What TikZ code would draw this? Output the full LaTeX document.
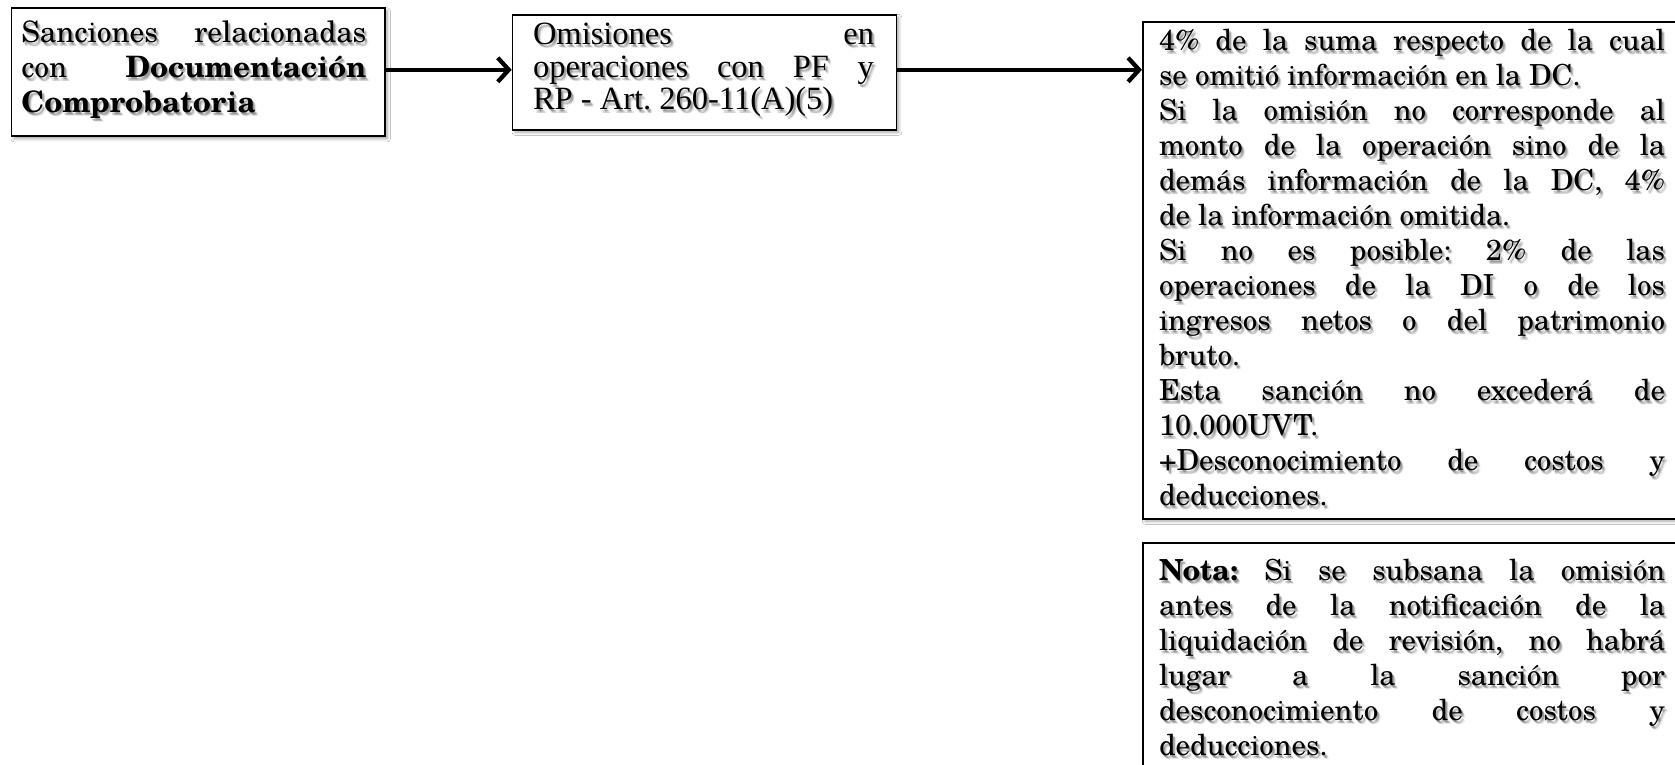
\documentclass[tikz,border=0pt]{standalone}
\usepackage{fontspec}
\setmainfont{texgyreschola}[
  Extension=.otf,
  UprightFont=*-regular,
  BoldFont=*-bold,
  ItalicFont=*-italic,
  BoldItalicFont=*-bolditalic]
\newfontfamily\timesfont{Liberation Serif}
\usetikzlibrary{arrows.meta,shadows.blur}

\tikzset{
  box/.style={draw=black, line width=1.6pt, fill=white, inner sep=0pt,
    anchor=north west,
    blur shadow={shadow xshift=2.5pt, shadow yshift=-2.5pt,
      shadow blur radius=3pt, shadow opacity=35}},
  para/.style={inner sep=0pt, outer sep=0pt, anchor=north west, align=justify,
    execute at begin node={\frenchspacing\parindent=0pt\hyphenpenalty=10000%
      \exhyphenpenalty=10000\tolerance=10000\emergencystretch=0pt}},
  headtext/.style={para, text width=345pt, font=\fontsize{29.5}{34.7}\selectfont},
  midtext/.style={para, text width=341pt, font=\timesfont\fontsize{32.5}{32.6}\selectfont},
  sidetext/.style={para, text width=506pt, font=\fontsize{29}{35}\selectfont},
  arr/.style={line width=4.3pt, -{Straight Barb[length=11pt, width=24pt]}},
}

% text with a soft drop shadow: #1 name, #2 style, #3 position, #4 text
\newcommand\shadowtext[4]{%
  \foreach \sx/\sy/\so in {1.5/2/0.16, 2.5/3/0.14, 3.5/4/0.08, 2/3.5/0.1}{%
    \node[#2, text=black, text opacity=\so, xshift=\sx pt, yshift=-\sy pt] at (#3) {#4};
  }%
  \node[#2] (#1) at (#3) {#4};
}

\begin{document}
\begin{tikzpicture}[x=1pt, y=-1pt]
  \useasboundingbox (0,0) rectangle (1675,765);
  \clip (0,0) rectangle (1675,765);
  \fill[white] (0,0) rectangle (1675,765);

  % frames
  \node[box, minimum width=373.3pt, minimum height=128pt] (b1) at (10.7,7.5) {};
  \node[box, minimum width=383.8pt, minimum height=115pt] (b2) at (511.7,14) {};
  \node[box, minimum width=560pt, minimum height=497pt] (b3) at (1142,21) {};
  \node[box, minimum width=560pt, minimum height=260pt] (b4) at (1142,542) {};

  % connectors
  \draw[arr] ([yshift=2.5pt]b1.east) -- ([yshift=2.5pt]b1.east -| b2.west);
  \draw[arr] ([yshift=2.5pt]b2.east) -- ([yshift=2.5pt]b2.east -| b3.west);

  % texts
  \shadowtext{t1}{headtext}{21.4,13}{\rule{0pt}{30pt}Sanciones relacionadas\linebreak
    con \textbf{Documentación\linebreak Comprobatoria}}
  \shadowtext{t2}{midtext}{533,14.5}{\rule{0pt}{30pt}Omisiones en\linebreak
    operaciones con PF y\linebreak RP - Art. 260-11(A)(5)}
  \shadowtext{t3}{sidetext}{1159,21}{\rule{0pt}{30pt}4\% de la suma respecto de la cual\linebreak
    se omitió información en la DC.\par
    Si la omisión no corresponde al\linebreak monto de la operación sino de la\linebreak
    demás información de la DC, 4\%\linebreak de la información omitida.\par
    Si no es posible: 2\% de las\linebreak operaciones de la DI o de los\linebreak
    ingresos netos o del patrimonio\linebreak bruto.\par
    Esta sanción no excederá de\linebreak 10.000UVT.\par
    +Desconocimiento de costos y\linebreak deducciones.}
  \shadowtext{t4}{sidetext}{1159,550}{\rule{0pt}{30pt}\textbf{Nota:} Si se subsana la omisión\linebreak
    antes de la notificación de la\linebreak liquidación de revisión, no habrá\linebreak
    lugar a la sanción por\linebreak desconocimiento de costos y\linebreak deducciones.}
\end{tikzpicture}
\end{document}
